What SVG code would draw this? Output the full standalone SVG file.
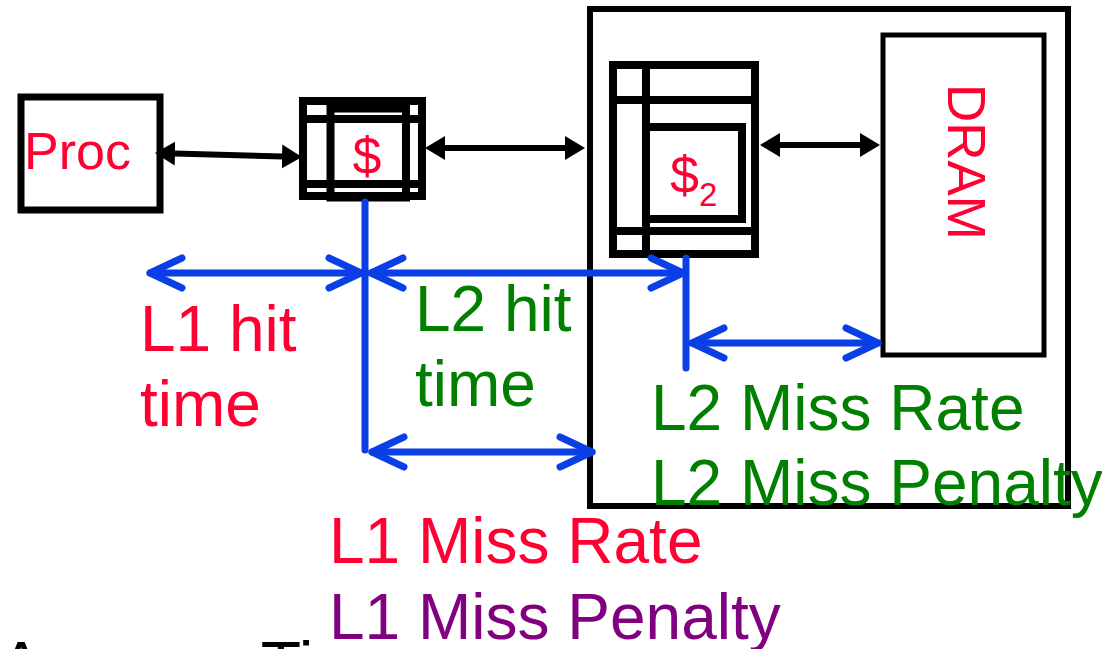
<svg xmlns="http://www.w3.org/2000/svg" width="1102" height="649" viewBox="0 0 1102 649">
<style>
.box{fill:none;stroke:#000}
.t{font-family:"Liberation Sans",Arial,sans-serif}
.red{fill:#ff0033}
.grn{fill:#007f00}
.pur{fill:#800080}
.blk{stroke:#000;stroke-width:6;fill:none}
.blu{stroke:#0a3fe6;stroke-width:7;fill:none;stroke-linecap:round}
.lab{font-size:64px}
</style>
<defs>
<marker id="tri" markerUnits="userSpaceOnUse" markerWidth="24" markerHeight="28" viewBox="0 0 24 28" refX="10" refY="14" orient="auto-start-reverse">
<path d="M0,2 L20,14 L0,26 Z" fill="#000"/>
</marker>
<marker id="chev" markerUnits="userSpaceOnUse" markerWidth="50" markerHeight="50" viewBox="-44 -25 50 50" refX="0" refY="0" orient="auto-start-reverse" overflow="visible">
<path d="M-32,-15 L0,0 L-32,15" fill="none" stroke="#0a3fe6" stroke-width="7" stroke-linecap="round" stroke-linejoin="round"/>
</marker>
</defs>

<g id="l2-enclosure">
<rect class="box" x="590" y="9" width="478" height="497" stroke-width="6"/>
</g>

<g id="proc">
<rect class="box" x="21" y="97" width="139" height="113" stroke-width="7"/>
<text class="t red" x="24" y="169" font-size="52">Proc</text>
</g>

<g id="l1-cache">
<rect class="box" x="303" y="101" width="119" height="95" stroke-width="8"/>
<line x1="303" y1="119" x2="422" y2="119" stroke="#000" stroke-width="8"/>
<line x1="303" y1="184" x2="422" y2="184" stroke="#000" stroke-width="8"/>
<rect class="box" x="330.5" y="108.5" width="75.5" height="89" stroke-width="8"/>
<rect x="335" y="124" width="66" height="56" fill="#fff"/>
<text class="t red" x="367" y="174" font-size="52" text-anchor="middle">$</text>
</g>

<g id="l2-cache">
<rect class="box" x="613" y="65" width="142" height="189" stroke-width="8"/>
<line x1="613" y1="100" x2="755" y2="100" stroke="#000" stroke-width="8"/>
<line x1="613" y1="231" x2="755" y2="231" stroke="#000" stroke-width="8"/>
<line x1="646" y1="65" x2="646" y2="254" stroke="#000" stroke-width="8"/>
<rect class="box" x="646" y="127" width="96" height="92" stroke-width="8"/>
<text class="t red" x="670" y="193" font-size="52">$<tspan font-size="33" dy="13">2</tspan></text>
</g>

<g id="dram">
<rect class="box" x="883" y="35" width="161" height="320" stroke-width="5"/>
<text class="t red" transform="translate(948,162) rotate(90)" font-size="53" text-anchor="middle">DRAM</text>
</g>

<g id="connectors">
<line class="blk" x1="165" y1="153.3" x2="292" y2="156.7" marker-start="url(#tri)" marker-end="url(#tri)"/>
<line class="blk" x1="435" y1="148" x2="575" y2="148" marker-start="url(#tri)" marker-end="url(#tri)"/>
<line class="blk" x1="770" y1="145" x2="870" y2="145" marker-start="url(#tri)" marker-end="url(#tri)"/>

<line class="blu" x1="365" y1="202" x2="365" y2="450" stroke-linecap="butt"/>
<line class="blu" x1="686" y1="258" x2="686" y2="368" stroke-linecap="butt"/>
<line class="blu" x1="150" y1="273" x2="361" y2="273" marker-start="url(#chev)" marker-end="url(#chev)"/>
<line class="blu" x1="371" y1="273" x2="683" y2="273" marker-start="url(#chev)" marker-end="url(#chev)"/>
<line class="blu" x1="372" y1="452" x2="592" y2="452" marker-start="url(#chev)" marker-end="url(#chev)"/>
<line class="blu" x1="692" y1="343" x2="878" y2="343" marker-start="url(#chev)" marker-end="url(#chev)"/>
</g>

<g id="labels">
<text class="t red lab" x="140" y="351">L1 hit</text>
<text class="t red lab" x="140" y="426">time</text>
<text class="t grn lab" x="415" y="331">L2 hit</text>
<text class="t grn lab" x="415" y="406">time</text>
<text class="t grn lab" x="651" y="430">L2 Miss Rate</text>
<text class="t grn lab" x="651" y="505">L2 Miss Penalty</text>
<text class="t red lab" x="329" y="563">L1 Miss Rate</text>
<text class="t pur lab" x="329" y="639">L1 Miss Penalty</text>
<text class="t" x="-1" y="688" font-size="66" fill="#000">Average Time</text>
</g>
</svg>
